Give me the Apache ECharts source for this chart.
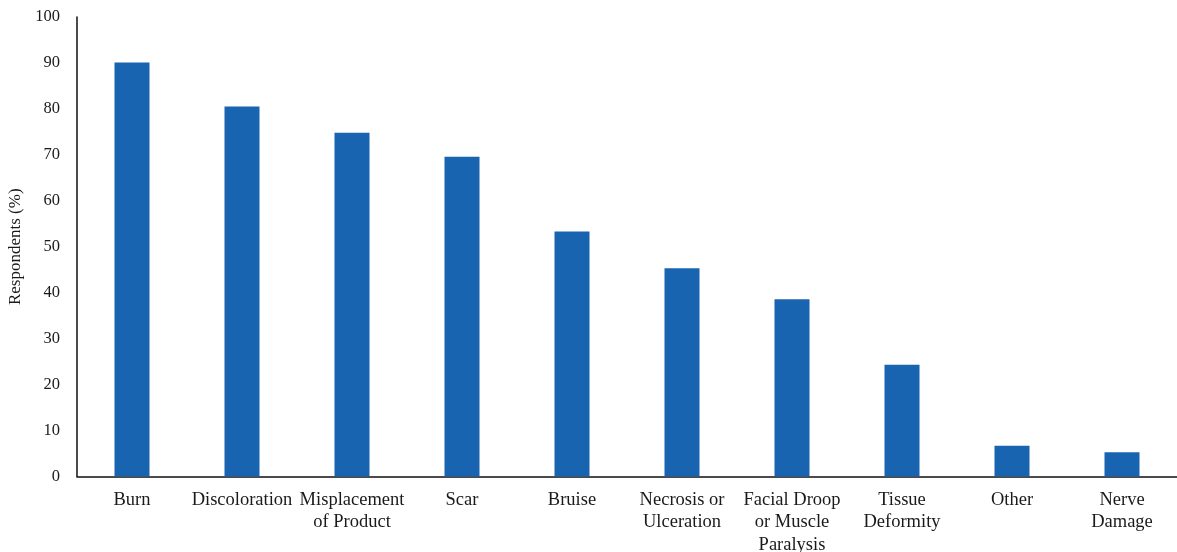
<!DOCTYPE html>
<html>
<head>
<meta charset="utf-8">
<script src="https://cdn.jsdelivr.net/npm/echarts@6/dist/echarts.min.js"></script>
<style>
  html, body { margin: 0; padding: 0; background: #ffffff; }
  #chart { width: 1177px; height: 552px; }
</style>
</head>
<body>
<div id="chart"></div>
<script>
// Reported complications, share of respondents
const categories = [
  'Burn',
  'Discoloration',
  'Misplacement\nof Product',
  'Scar',
  'Bruise',
  'Necrosis or\nUlceration',
  'Facial Droop\nor Muscle\nParalysis',
  'Tissue\nDeformity',
  'Other',
  'Nerve\nDamage'
];
const respondents = [90.1, 80.5, 74.8, 69.6, 53.3, 45.3, 38.6, 24.3, 6.7, 5.3];
const yTicks = { min: 0, max: 100, interval: 10 };

const serif = '"Liberation Serif", "DejaVu Serif", serif';
const chart = echarts.init(document.getElementById('chart'), null, { renderer: 'canvas' });

chart.setOption({
  backgroundColor: '#ffffff',
  animation: false,
  grid: {
    left: 77, right: 0, top: 17, bottom: 75.5,
    containLabel: false,
    outerBoundsMode: 'none'
  },
  xAxis: {
    type: 'category',
    data: categories,
    axisLine: { show: true, lineStyle: { color: '#111', width: 1.5 } },
    axisTick: { show: false },
    axisLabel: {
      interval: 0,
      color: '#1a1a1a',
      fontFamily: serif,
      fontSize: 18.5,
      lineHeight: 22.5,
      margin: 12
    },
    splitLine: { show: false }
  },
  yAxis: {
    type: 'value',
    min: yTicks.min,
    max: yTicks.max,
    interval: yTicks.interval,
    name: 'Respondents (%)',
    nameLocation: 'middle',
    nameRotate: 90,
    nameGap: 48,
    nameTextStyle: { color: '#1a1a1a', fontFamily: serif, fontSize: 17 },
    axisLine: { show: true, lineStyle: { color: '#111', width: 1.5 } },
    axisTick: { show: false },
    axisLabel: { color: '#1a1a1a', fontFamily: serif, fontSize: 16.5, margin: 17 },
    splitLine: { show: false }
  },
  series: [{
    type: 'bar',
    data: respondents,
    barWidth: 35,
    itemStyle: { color: '#1864b1' }
  }]
});
</script>
</body>
</html>
